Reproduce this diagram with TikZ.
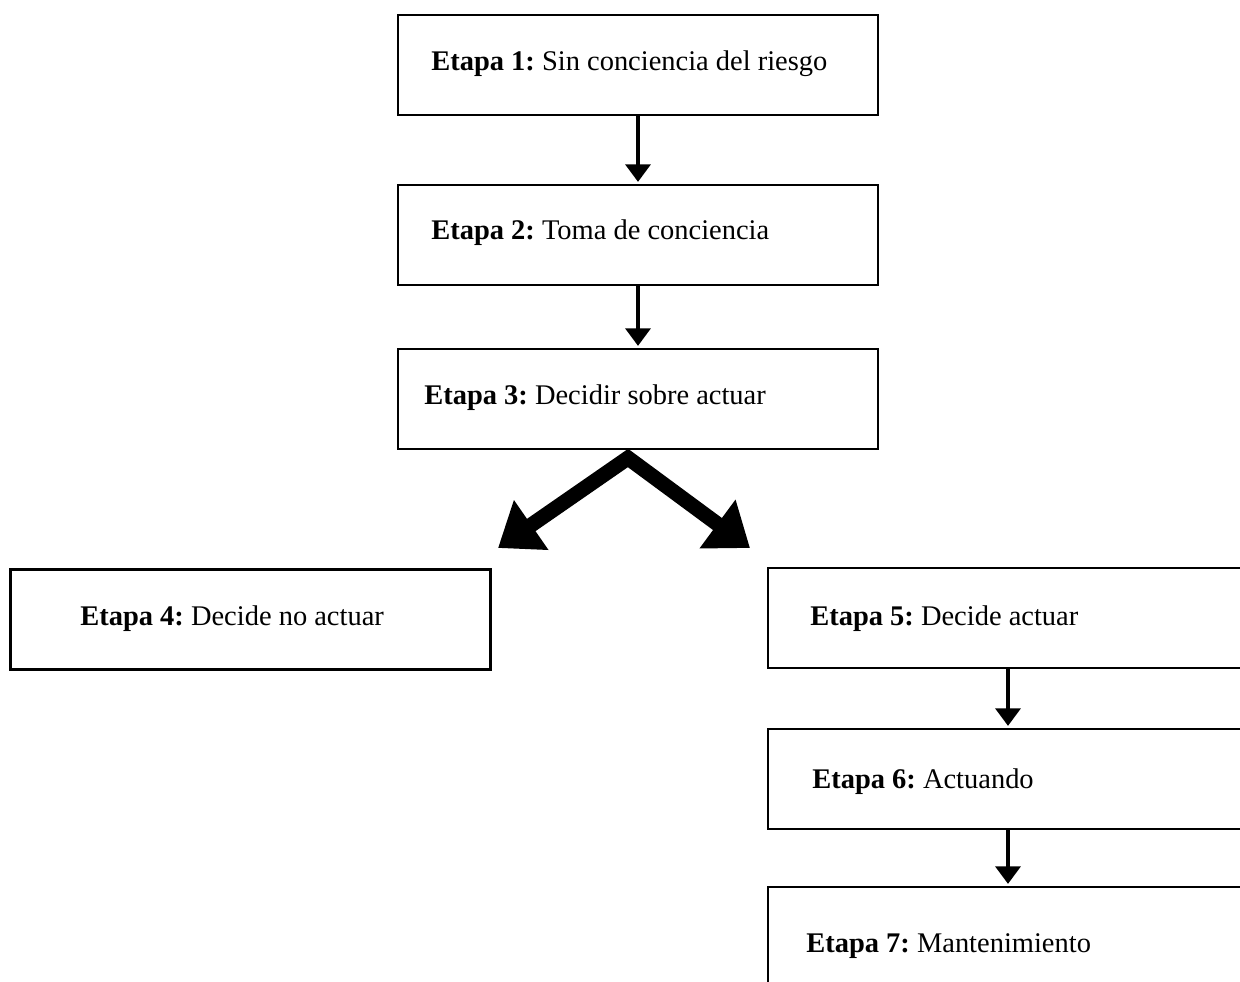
\documentclass[tikz,border=0pt]{standalone}
\usepackage{fontspec}
\setmainfont{Liberation Serif}
\usetikzlibrary{arrows.meta, positioning}
\tikzset{
    normal/.style={draw, line width=1.5pt},
    stage/.style={style=normal, rectangle, minimum width=9.6cm, minimum height=2cm, inner sep=0pt},
    tag/.style={anchor=base west, inner sep=0pt, font=\fontsize{16.2}{20}\selectfont},
    flow/.style={line width=2.6pt, -{Triangle[width=14pt, length=10pt]}, shorten >=1pt},
    split/.style={line width=8.5pt, {Triangle[width=33pt, length=23pt]}-{Triangle[width=33pt, length=23pt]}} % the two big arrows
}

\begin{document}
\begin{tikzpicture}[x=0.02cm, y=-0.02cm]
        \useasboundingbox (0,0) rectangle (1240,981);
        \clip (0,0) rectangle (1240,981);

        % boxes
        \node[stage] (s1) at (638,65) {};
        \node[stage] (s2) at (638,235) {};
        \node[stage] (s3) at (638,399) {};
        \node[stage] (s4) at (250.5,619.5) {};
        \node[stage] (s5) at (1008,618) {};
        \node[stage] (s6) at (1008,779) {};
        \node[stage] (s7) at (1008,937) {};

        % texts
        \node[tag] (t1) at (431,70) {\textbf{Etapa 1:}~Sin conciencia del riesgo};
        \node[tag] (t2) at (431,239) {\textbf{Etapa 2:}~Toma de conciencia};
        \node[tag] (t3) at (424,404) {\textbf{Etapa 3:}~Decidir sobre actuar};
        \node[tag] (t4) at (80,625) {\textbf{Etapa 4:}~Decide no actuar};
        \node[tag] (t5) at (810,625) {\textbf{Etapa 5:}~Decide actuar};
        \node[tag] (t6) at (812,788) {\textbf{Etapa 6:}~Actuando};
        \node[tag] (t7) at (806,952) {\textbf{Etapa 7:}~Mantenimiento};

        \coordinate (fork) at (628,458);
        \coordinate (toleft) at (498,548);
        \coordinate (toright) at (750,548);

        \draw[flow] (s1) -- (s2);
        \draw[flow] (s2) -- (s3);
        \draw[split] (toleft) -- (fork) -- (toright);
        \draw[flow] (s5) -- (s6);
        \draw[flow] (s6) -- (s7);
\end{tikzpicture}
\end{document}
